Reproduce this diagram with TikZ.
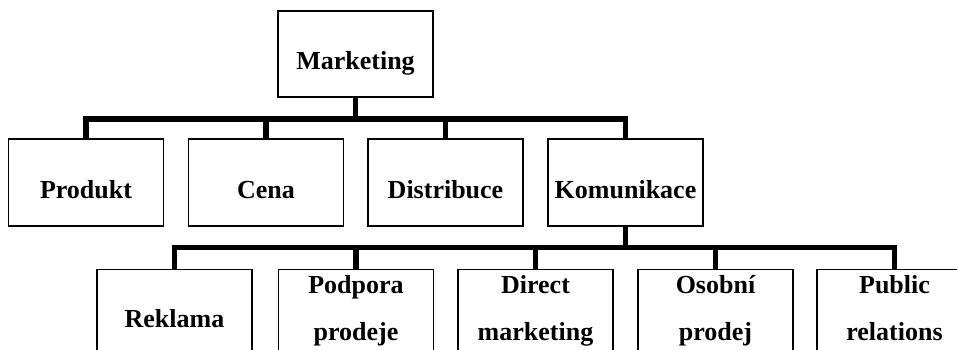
\documentclass[tikz,border=0pt]{standalone}
\usepackage{fontspec}
\setmainfont{Liberation Serif}
\usepackage{tikz}

\tikzset{
    box/.style={draw, line width=1.3pt, minimum width=155pt, inner sep=0pt,
        align=center, font=\fontsize{26}{47}\selectfont\bfseries},
    upper/.style={box, text height=31pt, text depth=0pt},
    lower/.style={box, anchor=north, text height=24pt, text depth=20pt},
    twoline/.style={lower, text height=71pt},
    bus/.style={line width=5.5pt}
}

\begin{document}
\begin{tikzpicture}[x=1pt, y=-1pt]
    \clip (0,0) rectangle (957,349);
    \useasboundingbox (0,0) rectangle (957,349);

    \node[upper, minimum height=86pt] (mkt) at (355.5,54) {Marketing};

    \node[upper, minimum height=87pt] (prod) at (86,182.5) {Produkt};
    \node[upper, minimum height=87pt] (cena) at (266,182.5) {Cena};
    \node[upper, minimum height=87pt] (dist) at (445.5,182.5) {Distribuce};
    \node[upper, minimum height=87pt] (kom) at (625.5,182.5) {Komunikace};

    \node[lower, minimum height=112pt] (rekl) at (174.5,269) {Reklama};
    \node[twoline] (podp) at (356,269) {Podpora\\prodeje};
    \node[twoline] (dirm) at (535.5,269) {Direct\\marketing};
    \node[twoline] (osob) at (715.5,269) {Osobní\\prodej};
    \node[twoline] (publ) at (894.5,269) {Public\\relations};

    \foreach \n in {prod,cena,dist,kom}
        \draw[bus] (mkt.south) -- ++(0,21.5) -| (\n.north);
    \foreach \n in {rekl,podp,dirm,osob,publ}
        \draw[bus] (kom.south) -- ++(0,21) -| (\n.north);
\end{tikzpicture}
\end{document}
